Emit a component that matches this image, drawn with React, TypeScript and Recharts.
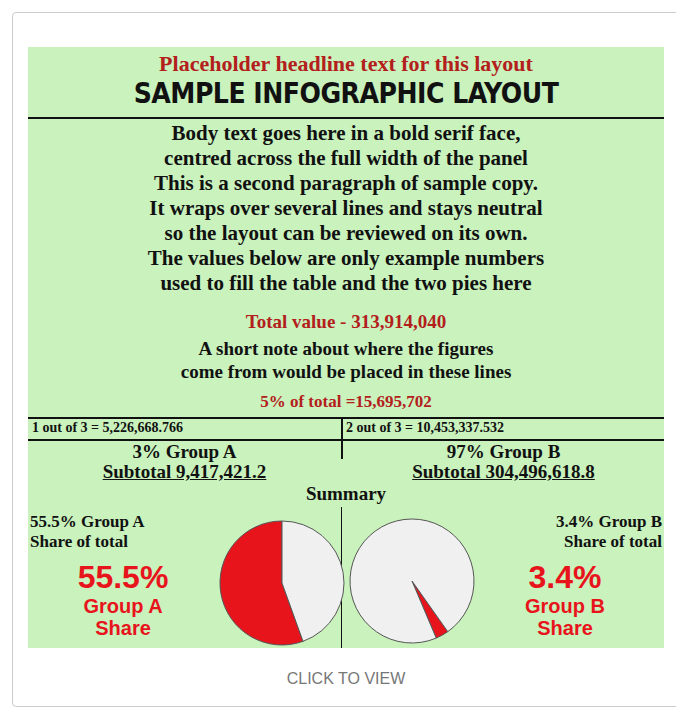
import React from 'react';
import { PieChart, Pie, Cell } from 'recharts';

// Neutral placeholder content that keeps the reference's layout and pie values
const headline = 'Placeholder headline text for this layout';
const banner = 'SAMPLE INFOGRAPHIC LAYOUT';
const bodyLines = [
  'Body text goes here in a bold serif face,',
  'centred across the full width of the panel',
  'This is a second paragraph of sample copy.',
  'It wraps over several lines and stays neutral',
  'so the layout can be reviewed on its own.',
  'The values below are only example numbers',
  'used to fill the table and the two pies here',
];
const totalLine = 'Total value - 313,914,040';
const noteLines = ['A short note about where the figures', 'come from would be placed in these lines'];
const shareLine = '5% of total =15,695,702';
const tableLeft = '1 out of 3 = 5,226,668.766';
const tableRight = '2 out of 3 = 10,453,337.532';
const groupLeft = ['3% Group A', 'Subtotal 9,417,421.2'];
const groupRight = ['97% Group B', 'Subtotal 304,496,618.8'];
const summary = 'Summary';
const captionLeft = ['55.5% Group A', 'Share of total'];
const captionRight = ['3.4% Group B', 'Share of total'];

const leftPie = [
  { name: 'Group A', value: 55.5 },
  { name: 'Rest', value: 44.5 },
];
const rightPie = [
  { name: 'Group B', value: 3.4 },
  { name: 'Rest', value: 96.6 },
];

const RED = '#e8141c';
const DARK_RED = '#b3201c';
const GREEN = '#c9f2bd';
const serif = '"Liberation Serif", "DejaVu Serif", serif';
const sans = '"Liberation Sans", Arial, sans-serif';

const App: React.FC = () => {
  return (
    <div
      style={{
        width: 666,
        height: 693,
        margin: '4px 0 0 4px',
        border: '1px solid #ccc',
        borderRadius: 4,
        position: 'relative',
        background: '#fff',
      }}
    >
      <div
        style={{
          position: 'absolute',
          left: 15,
          top: 34,
          width: 636,
          height: 601,
          background: GREEN,
          fontFamily: serif,
          fontWeight: 'bold',
          color: '#111',
          overflow: 'hidden',
        }}
      >
        <div style={{ position: 'absolute', top: 4, width: '100%', textAlign: 'center', color: DARK_RED, fontSize: 22 }}>
          {headline}
        </div>
        <div
          style={{
            position: 'absolute',
            top: 30,
            width: '100%',
            textAlign: 'center',
            fontFamily: '"DejaVu Sans Condensed", "DejaVu Sans", sans-serif',
            fontSize: 28,
            letterSpacing: -0.5,
          }}
        >
          {banner}
        </div>
        <div style={{ position: 'absolute', top: 70, left: 0, width: '100%', borderTop: '2px solid #111' }} />
        <div style={{ position: 'absolute', top: 74, width: '100%', textAlign: 'center', fontSize: 21, lineHeight: '25px' }}>
          {bodyLines.map((l) => (
            <div key={l}>{l}</div>
          ))}
        </div>
        <div style={{ position: 'absolute', top: 264, width: '100%', textAlign: 'center', color: DARK_RED, fontSize: 19 }}>
          {totalLine}
        </div>
        <div style={{ position: 'absolute', top: 290, width: '100%', textAlign: 'center', fontSize: 19, lineHeight: '23px' }}>
          {noteLines.map((l) => (
            <div key={l}>{l}</div>
          ))}
        </div>
        <div style={{ position: 'absolute', top: 345, width: '100%', textAlign: 'center', color: DARK_RED, fontSize: 17 }}>
          {shareLine}
        </div>
        <div style={{ position: 'absolute', top: 370, width: '100%', borderTop: '2px solid #111' }} />
        <div style={{ position: 'absolute', top: 373, left: 4, width: 306, fontSize: 14 }}>{tableLeft}</div>
        <div style={{ position: 'absolute', top: 373, left: 318, width: 314, fontSize: 14 }}>{tableRight}</div>
        <div style={{ position: 'absolute', top: 370, left: 313, height: 42, borderLeft: '2px solid #111' }} />
        <div style={{ position: 'absolute', top: 392, width: '100%', borderTop: '2px solid #111' }} />
        <div style={{ position: 'absolute', top: 395, left: 0, width: 313, textAlign: 'center', fontSize: 19, lineHeight: '20px' }}>
          <div>{groupLeft[0]}</div>
          <div style={{ textDecoration: 'underline' }}>{groupLeft[1]}</div>
        </div>
        <div style={{ position: 'absolute', top: 395, left: 315, width: 321, textAlign: 'center', fontSize: 19, lineHeight: '20px' }}>
          <div>{groupRight[0]}</div>
          <div style={{ textDecoration: 'underline' }}>{groupRight[1]}</div>
        </div>
        <div style={{ position: 'absolute', top: 436, width: '100%', textAlign: 'center', fontSize: 19 }}>{summary}</div>
        <div style={{ position: 'absolute', top: 460, left: 313, height: 150, borderLeft: '1px solid #111' }} />
        <div style={{ position: 'absolute', top: 465, left: 2, fontSize: 17, lineHeight: '20px' }}>
          {captionLeft.map((l) => (
            <div key={l}>{l}</div>
          ))}
        </div>
        <div style={{ position: 'absolute', top: 465, right: 2, textAlign: 'right', fontSize: 17, lineHeight: '20px' }}>
          {captionRight.map((l) => (
            <div key={l}>{l}</div>
          ))}
        </div>

        <div style={{ position: 'absolute', left: 186, top: 470 }}>
          <PieChart width={136} height={132}>
            <Pie
              data={leftPie}
              dataKey="value"
              cx="50%"
              cy="50%"
              outerRadius={62}
              startAngle={90}
              endAngle={450}
              stroke="#555"
              strokeWidth={1}
              isAnimationActive={false}
            >
              <Cell fill={RED} />
              <Cell fill="#f0f0f0" />
            </Pie>
          </PieChart>
        </div>
        <div style={{ position: 'absolute', left: 316, top: 468 }}>
          <PieChart width={136} height={132}>
            <Pie
              data={rightPie}
              dataKey="value"
              cx="50%"
              cy="50%"
              outerRadius={62}
              startAngle={-67}
              endAngle={293}
              stroke="#555"
              strokeWidth={1}
              isAnimationActive={false}
            >
              <Cell fill={RED} />
              <Cell fill="#f0f0f0" />
            </Pie>
          </PieChart>
        </div>

        <div style={{ position: 'absolute', left: 20, top: 512, width: 150, textAlign: 'center', color: RED, fontFamily: sans }}>
          <div style={{ fontSize: 32, lineHeight: '36px' }}>55.5%</div>
          <div style={{ fontSize: 20, lineHeight: '22px' }}>Group A</div>
          <div style={{ fontSize: 20, lineHeight: '22px' }}>Share</div>
        </div>
        <div style={{ position: 'absolute', right: 14, top: 512, width: 170, textAlign: 'center', color: RED, fontFamily: sans }}>
          <div style={{ fontSize: 32, lineHeight: '36px' }}>3.4%</div>
          <div style={{ fontSize: 20, lineHeight: '22px' }}>Group B</div>
          <div style={{ fontSize: 20, lineHeight: '22px' }}>Share</div>
        </div>
      </div>
      <div
        style={{
          position: 'absolute',
          top: 657,
          width: '100%',
          textAlign: 'center',
          fontFamily: sans,
          fontSize: 16,
          color: '#777',
        }}
      >
        CLICK TO VIEW
      </div>
    </div>
  );
};

export default App;
